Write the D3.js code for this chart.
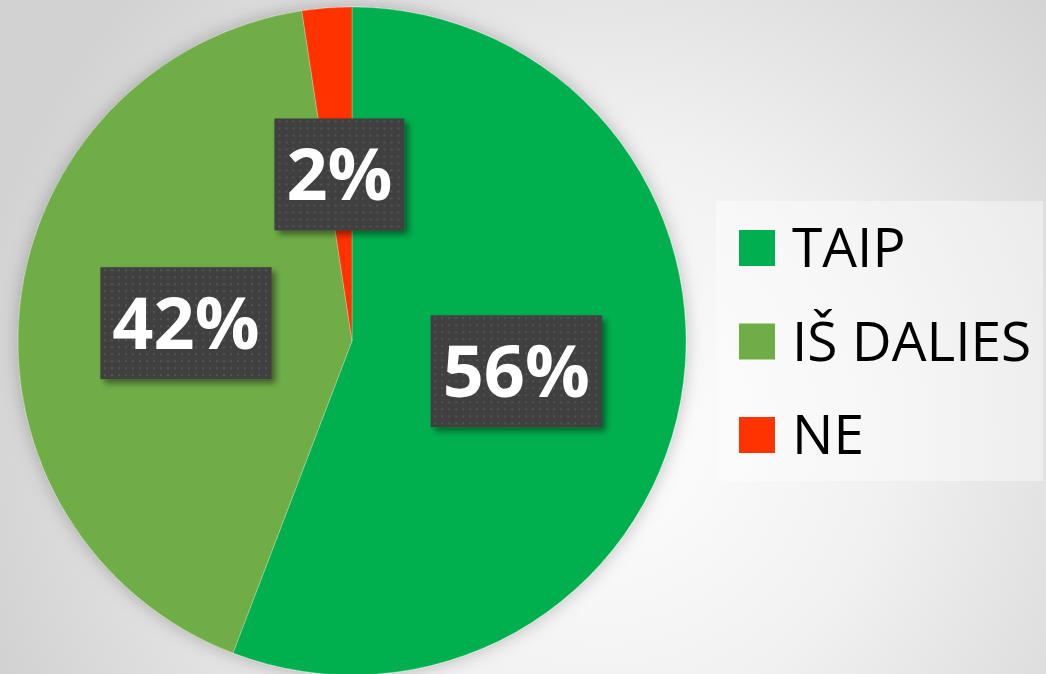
<!DOCTYPE html>
<html>
<head>
<meta charset="utf-8">
<script src="https://cdn.jsdelivr.net/npm/d3@7"></script>
<style>
  html, body { margin: 0; padding: 0; overflow: hidden; }
  svg { display: block; }
</style>
</head>
<body>
<div id="chart"></div>
<script>
// chart data
var categories = ["TAIP", "IŠ DALIES", "NE"];
var values = [55.8, 41.8, 2.4];
var labels = ["56%", "42%", "2%"];
var colors = ["#00B050", "#70AD47", "#FF3300"];

var width = 1046, height = 674;
var cx = 352, cy = 341, radius = 334;

var svg = d3.select("#chart").append("svg")
  .attr("width", width)
  .attr("height", height);

var defs = svg.append("defs");

// background gradient
var bg = defs.append("radialGradient")
  .attr("id", "bg")
  .attr("gradientUnits", "userSpaceOnUse")
  .attr("cx", 600).attr("cy", 430).attr("r", 640);
bg.append("stop").attr("offset", "0%").attr("stop-color", "#ffffff");
bg.append("stop").attr("offset", "45%").attr("stop-color", "#f1f1f1");
bg.append("stop").attr("offset", "100%").attr("stop-color", "#d2d2d2");

var pieShadow = defs.append("filter").attr("id", "pieShadow")
  .attr("x", "-10%").attr("y", "-10%").attr("width", "120%").attr("height", "120%");
pieShadow.append("feDropShadow")
  .attr("dx", 0).attr("dy", 0).attr("stdDeviation", 9)
  .attr("flood-color", "#000").attr("flood-opacity", 0.25);

var boxShadow = defs.append("filter").attr("id", "boxShadow")
  .attr("x", "-20%").attr("y", "-20%").attr("width", "140%").attr("height", "140%");
boxShadow.append("feDropShadow")
  .attr("dx", 4).attr("dy", 4).attr("stdDeviation", 3)
  .attr("flood-color", "#000").attr("flood-opacity", 0.45);

// dotted texture for label boxes
var dots = defs.append("pattern")
  .attr("id", "dots")
  .attr("patternUnits", "userSpaceOnUse")
  .attr("width", 7).attr("height", 7);
dots.append("rect").attr("width", 7).attr("height", 7).attr("fill", "#404040");
dots.append("rect").attr("x", 2).attr("y", 2).attr("width", 2).attr("height", 2).attr("fill", "#535353");

svg.append("rect")
  .attr("width", width).attr("height", height)
  .attr("fill", "url(#bg)");

var data = categories.map(function(c, i) {
  return { name: c, value: values[i], label: labels[i], color: colors[i] };
});

var pie = d3.pie().sort(null).value(function(d) { return d.value; });
var arc = d3.arc().innerRadius(0).outerRadius(radius);
var arcs = pie(data);

var pieGroup = svg.append("g")
  .attr("transform", "translate(" + cx + "," + cy + ")");

pieGroup.append("g")
  .attr("filter", "url(#pieShadow)")
  .selectAll("path")
  .data(arcs)
  .enter()
  .append("path")
  .attr("d", arc)
  .attr("fill", function(d) { return d.data.color; })
  .attr("stroke", "#ffffff")
  .attr("stroke-opacity", 0.35)
  .attr("stroke-width", 0.7);

// data labels in dark boxes
var fontSize = 72;
var labelGroups = pieGroup.selectAll("g.label")
  .data(arcs)
  .enter()
  .append("g")
  .attr("class", "label")
  .attr("transform", function(d) {
    var c = arc.centroid(d);
    return "translate(" + c[0] + "," + c[1] + ")";
  });

var boxes = labelGroups.append("rect")
  .attr("fill", "url(#dots)")
  .attr("filter", "url(#boxShadow)");

var texts = labelGroups.append("text")
  .attr("text-anchor", "middle")
  .attr("y", fontSize * 0.36)
  .attr("fill", "#ffffff")
  .style("font-family", "'Open Sans', sans-serif")
  .style("font-weight", "bold")
  .style("font-size", fontSize + "px")
  .text(function(d) { return d.data.label; });

texts.each(function(d) {
  var w = this.getComputedTextLength() + 24;
  d3.select(this.parentNode).select("rect")
    .attr("x", -w / 2)
    .attr("y", -56)
    .attr("width", w)
    .attr("height", 112);
});

// legend
var legend = svg.append("g");
legend.append("rect")
  .attr("x", 716).attr("y", 201)
  .attr("width", 327).attr("height", 280)
  .attr("fill", "#ffffff")
  .attr("fill-opacity", 0.4);

var legendY = d3.scalePoint().domain(categories).range([248, 435]);

var items = legend.selectAll("g.item")
  .data(data)
  .enter()
  .append("g")
  .attr("class", "item")
  .attr("transform", function(d) { return "translate(739," + legendY(d.name) + ")"; });

items.append("rect")
  .attr("x", 0).attr("y", -18)
  .attr("width", 36).attr("height", 36)
  .attr("fill", function(d) { return d.color; });

items.append("text")
  .attr("x", 53)
  .attr("y", 19)
  .attr("fill", "#000000")
  .style("font-family", "'Open Sans', sans-serif")
  .style("font-size", "55px")
  .text(function(d) { return d.name; });
</script>
</body>
</html>
